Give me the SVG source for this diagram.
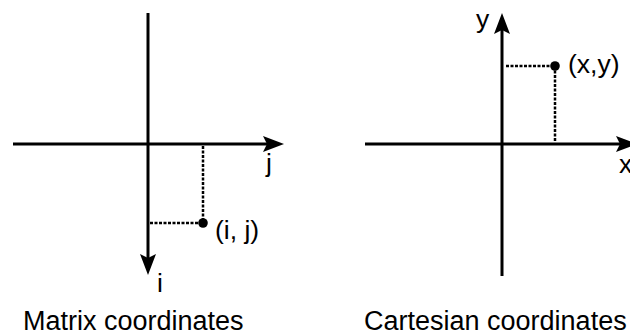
<svg xmlns="http://www.w3.org/2000/svg" width="630" height="334" viewBox="0 0 630 334">
<style>
.axis{stroke:#000;stroke-width:3;fill:none}
.dot{stroke:#000;stroke-width:2.5;stroke-dasharray:3 1.5;fill:none}
.lbl{font-family:"Liberation Sans",Arial,sans-serif;font-size:26.5px;fill:#000}
.ttl{font-family:"Liberation Sans",Arial,sans-serif;font-size:27px;fill:#000}
</style>
<defs>
<marker id="arr" viewBox="0 0 21 16" refX="4" refY="8" markerWidth="21" markerHeight="16" markerUnits="userSpaceOnUse" orient="auto">
<path d="M0,0 L21,8 L0,16 L4,8 Z" fill="#000"/>
</marker>
</defs>
<rect width="630" height="334" fill="#fff"/>
<g id="connectors">
<line class="axis" x1="13" y1="144" x2="267" y2="144" marker-end="url(#arr)"/>
<line class="axis" x1="148" y1="13" x2="148" y2="258" marker-end="url(#arr)"/>
<line class="dot" x1="203" y1="146" x2="203" y2="223"/>
<line class="dot" x1="150" y1="223" x2="203" y2="223"/>
<line class="axis" x1="365" y1="144" x2="620" y2="144" marker-end="url(#arr)"/>
<line class="axis" x1="502" y1="276" x2="502" y2="30" marker-end="url(#arr)"/>
<line class="dot" x1="506" y1="66" x2="555" y2="66"/>
<line class="dot" x1="555" y1="66" x2="555" y2="142"/>
</g>
<g id="matrix">
<circle cx="203" cy="223" r="4.8" fill="#000"/>
<text class="lbl" x="215" y="239">(i, j)</text>
<text class="lbl" x="266" y="172">j</text>
<text class="lbl" x="157" y="292">i</text>
<text class="ttl" x="23" y="330">Matrix coordinates</text>
</g>
<g id="cartesian">
<circle cx="555" cy="66" r="4.8" fill="#000"/>
<text class="lbl" x="568" y="73">(x,y)</text>
<text class="lbl" x="476" y="28">y</text>
<text class="lbl" x="619" y="173">x</text>
<text class="ttl" x="364" y="330">Cartesian coordinates</text>
</g>
</svg>
